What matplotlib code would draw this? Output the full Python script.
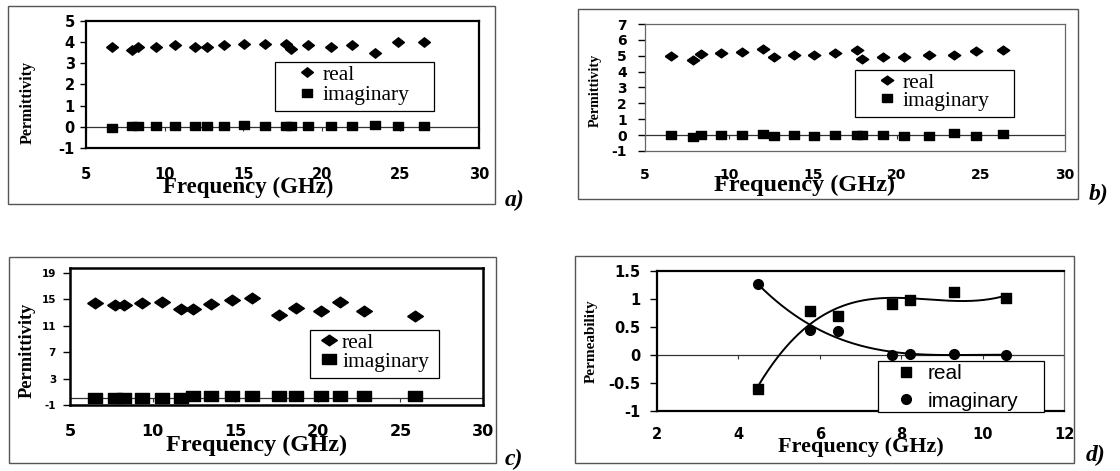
import numpy as np
import matplotlib
matplotlib.use("Agg")
import matplotlib.pyplot as plt
from matplotlib.patches import Rectangle

plt.rcParams["axes.unicode_minus"] = False

W, H = 1120, 471

# ---------------- data ----------------
freq_a = [6.64, 7.91, 8.30, 9.48, 10.68, 11.93, 12.68, 13.75, 15.07, 16.36,
          17.73, 18.07, 19.14, 20.57, 21.93, 23.36, 24.82, 26.48]
real_a = [3.78, 3.62, 3.78, 3.78, 3.86, 3.78, 3.78, 3.86, 3.91, 3.91,
          3.91, 3.69, 3.86, 3.78, 3.86, 3.47, 4.00, 4.00]
imag_a = [-0.05, 0.02, 0.02, 0.02, 0.02, 0.02, 0.02, 0.02, 0.08, 0.02,
          0.02, 0.02, 0.02, 0.02, 0.02, 0.08, 0.02, 0.02]

freq_b = [6.57, 7.85, 8.33, 9.50, 10.78, 12.05, 12.65, 13.86, 15.07, 16.30,
          17.62, 17.89, 19.17, 20.44, 21.93, 23.37, 24.69, 26.28]
real_b = [4.99, 4.76, 5.08, 5.15, 5.22, 5.40, 4.95, 5.05, 5.05, 5.16,
          5.37, 4.78, 4.95, 4.95, 5.05, 5.05, 5.30, 5.37]
imag_b = [0.01, -0.10, 0.01, 0.01, 0.01, 0.07, -0.03, 0.01, -0.03, 0.01,
          0.01, 0.01, 0.01, -0.03, -0.03, 0.11, -0.03, 0.07]

freq_c = [6.51, 7.70, 8.24, 9.36, 10.57, 11.74, 12.45, 13.53, 14.78, 16.02,
          17.64, 18.67, 20.18, 21.35, 22.78, 25.91]
real_c = [14.45, 14.20, 14.20, 14.40, 14.62, 13.51, 13.51, 14.37, 14.87, 15.27,
          12.70, 13.71, 13.21, 14.62, 13.21, 12.50]
imag_c = [0.10, 0.10, 0.10, 0.10, 0.10, 0.10, 0.40, 0.30, 0.30, 0.30,
          0.30, 0.30, 0.30, 0.30, 0.30, 0.30]

freq_d = [4.49, 5.76, 6.45, 7.77, 8.22, 9.30, 10.58]
real_d = [-0.61, 0.79, 0.70, 0.91, 0.98, 1.13, 1.01]
imag_d = [1.27, 0.45, 0.42, 0.00, 0.02, 0.02, 0.00]

xt_abc = [5, 10, 15, 20, 25, 30]
yt_a = [-1, 0, 1, 2, 3, 4, 5]
yt_b = [-1, 0, 1, 2, 3, 4, 5, 6, 7]
yt_c = [-1, 3, 7, 11, 15, 19]
xt_d = [2, 4, 6, 8, 10, 12]
yt_d = [-1, -0.5, 0, 0.5, 1, 1.5]
yl_d = ["-1", "-0.5", "0", "0.5", "1", "1.5"]

series_labels = ["real", "imaginary"]

SERIF = "Liberation Serif"
SANS = "DejaVu Sans"
LSANS = "Liberation Sans"

fig = plt.figure(figsize=(W / 100, H / 100), dpi=100)
fig.patch.set_facecolor("white")


def px_rect(l, t, r, b):
    return [l / W, 1 - b / H, (r - l) / W, (b - t) / H]


def diamond(r):
    return [(-1, 0), (0, r), (1, 0), (0, -r), (-1, 0)]


def box(r):
    return [(-1, -r), (1, -r), (1, r), (-1, r), (-1, -r)]


def outer(l, t, r, b):
    fig.add_artist(Rectangle((l / W, 1 - b / H), (r - l) / W, (b - t) / H,
                             transform=fig.transFigure, fill=False,
                             ec="#555555", lw=1.0))


def style_axis(ax, xpad, ylen, ypad, xsize, ysize):
    ax.tick_params(axis="x", length=0, pad=xpad, labelsize=xsize)
    ax.tick_params(axis="y", length=ylen, width=1.0, pad=ypad,
                   labelsize=ysize, direction="out")
    for lab in ax.get_xticklabels() + ax.get_yticklabels():
        lab.set_fontfamily(SANS)
        lab.set_fontweight("bold")


def zero_axis(ax, ticks):
    # category axis crossing at y = 0, with its own small tick marks
    ax.axhline(0, color="#333333", lw=0.9, zorder=1)
    y0, y1 = ax.get_ylim()
    sec = ax.secondary_xaxis((0 - y0) / (y1 - y0))
    sec.set_xticks(ticks)
    sec.tick_params(axis="x", length=3, width=0.8, color="#333333",
                    direction="out", labelbottom=False, labeltop=False)
    sec.spines["bottom"].set_visible(False)
    sec.spines["top"].set_visible(False)


def spines(ax, thick, lw_thick, lw_thin=0.9):
    for side, sp in ax.spines.items():
        if side in thick:
            sp.set_linewidth(lw_thick)
            sp.set_color("black")
        else:
            sp.set_linewidth(lw_thin)
            sp.set_color("#666666")


def legend_box(ax, x0, y0, x1, y1):
    ax.add_patch(Rectangle((x0, y0), x1 - x0, y1 - y0, transform=ax.transAxes,
                           fc="white", ec="black", lw=0.9, zorder=4,
                           clip_on=False))


# ---------------- panel a ----------------
outer(8, 6, 495, 204)
ax = fig.add_axes(px_rect(86, 21, 479, 148))
ax.set_xlim(5, 30)
ax.set_ylim(-1, 5)
zero_axis(ax, xt_abc)
ax.plot(freq_a, real_a, ls="none", marker=diamond(0.8), ms=8.5, color="k",
        label=series_labels[0], zorder=3)
ax.plot(freq_a, imag_a, ls="none", marker=box(0.8), ms=7.5, color="k",
        label=series_labels[1], zorder=3)
ax.set_xticks(xt_abc)
ax.set_yticks(yt_a)
style_axis(ax, 13.5, 4, 4, 10.5, 10.5)
spines(ax, ["left", "right", "top", "bottom"], 1.6)
legend_box(ax, 0.482, 0.295, 0.886, 0.679)
ax.legend(loc="center left", bbox_to_anchor=(0.535, 0.496), frameon=False,
          borderpad=0, borderaxespad=0, handlelength=1.0, handletextpad=0.24,
          labelspacing=0.0, prop={"family": SERIF, "size": 15.5})
fig.text(27.7 / W, 1 - 102.5 / H, "Permittivity", rotation=90, ha="center",
         va="center", family=SERIF, fontweight="bold", fontsize=11.5)
fig.text(248 / W, 1 - 187.5 / H, "Frequency (GHz)", ha="center", va="center",
         family=SERIF, fontweight="bold", fontsize=16.5)
fig.text(515 / W, 1 - 200 / H, "a)", ha="center", va="center", family=SERIF,
         fontweight="bold", style="italic", fontsize=17)

# ---------------- panel b ----------------
outer(578, 9, 1078, 199)
ax = fig.add_axes(px_rect(645, 24, 1065, 151))
ax.set_xlim(5, 30)
ax.set_ylim(-1, 7)
zero_axis(ax, xt_abc)
ax.plot(freq_b, real_b, ls="none", marker=diamond(0.7), ms=9, color="k",
        label=series_labels[0], zorder=3)
ax.plot(freq_b, imag_b, ls="none", marker=box(0.8), ms=7.5, color="k",
        label=series_labels[1], zorder=3)
ax.set_xticks(xt_abc)
ax.set_yticks(yt_b)
style_axis(ax, 12.5, 5, 8, 10, 10)
spines(ax, [], 1.0)
legend_box(ax, 0.499, 0.270, 0.879, 0.638)
ax.legend(loc="center left", bbox_to_anchor=(0.550, 0.466), frameon=False,
          borderpad=0, borderaxespad=0, handlelength=1.0, handletextpad=0.25,
          labelspacing=-0.1, prop={"family": SERIF, "size": 15.5})
fig.text(595 / W, 1 - 90 / H, "Permittivity", rotation=90, ha="center",
         va="center", family=SERIF, fontweight="bold", fontsize=10.2)
fig.text(805 / W, 1 - 185 / H, "Frequency (GHz)", ha="center", va="center",
         family=SERIF, fontweight="bold", fontsize=17.5)
fig.text(1099 / W, 1 - 194 / H, "b)", ha="center", va="center", family=SERIF,
         fontweight="bold", style="italic", fontsize=17)

# ---------------- panel c ----------------
outer(9, 257, 496, 463)
ax = fig.add_axes(px_rect(70, 268, 483, 405))
ax.set_xlim(5, 30)
ax.set_ylim(-1, 19.75)
zero_axis(ax, xt_abc)
ax.plot(freq_c, real_c, ls="none", marker=diamond(0.68), ms=11.3, color="k",
        label=series_labels[0], zorder=3)
ax.plot(freq_c, imag_c, ls="none", marker=box(0.72), ms=10, color="k",
        label=series_labels[1], zorder=3)
ax.set_xticks(xt_abc)
ax.set_yticks(yt_c)
style_axis(ax, 14, 5, 5, 11.5, 7.5)
spines(ax, ["left", "right", "top", "bottom"], 1.8)
legend_box(ax, 0.581, 0.199, 0.894, 0.547)
ax.legend(loc="center left", bbox_to_anchor=(0.602, 0.385), frameon=False,
          borderpad=0, borderaxespad=0, handlelength=1.0, handletextpad=0.09,
          labelspacing=-0.07, prop={"family": SERIF, "size": 15.5})
fig.text(27 / W, 1 - 350 / H, "Permittivity", rotation=90, ha="center",
         va="center", family=SERIF, fontweight="bold", fontsize=13.2)
fig.text(257 / W, 1 - 445 / H, "Frequency (GHz)", ha="center", va="center",
         family=SERIF, fontweight="bold", fontsize=17.5)
fig.text(514 / W, 1 - 459 / H, "c)", ha="center", va="center", family=SERIF,
         fontweight="bold", style="italic", fontsize=17)

# ---------------- panel d ----------------
outer(575, 256, 1074, 463)
ax = fig.add_axes(px_rect(657, 271, 1064, 411))
ax.set_xlim(2, 12)
ax.set_ylim(-1, 1.5)
zero_axis(ax, xt_d)
ax.plot(freq_d, real_d, ls="none", marker=box(0.9), ms=7.5, color="k",
        label=series_labels[0], zorder=3)
ax.plot(freq_d, imag_d, ls="none", marker="o", ms=7, color="k",
        label=series_labels[1], zorder=3)
xf = np.linspace(min(freq_d), max(freq_d), 300)
ax.plot(xf, np.polyval(np.polyfit(freq_d, real_d, 3), xf), color="k", lw=1.4,
        zorder=2)
ax.plot(xf, np.polyval(np.polyfit(freq_d, imag_d, 3), xf), color="k", lw=1.4,
        zorder=2)
ax.set_xticks(xt_d)
ax.set_yticks(yt_d)
ax.set_yticklabels(yl_d)
style_axis(ax, 11.3, 5, 7, 10.5, 10.5)
spines(ax, ["left", "top", "bottom"], 1.6)
legend_box(ax, 0.543, -0.009, 0.951, 0.357)
ax.legend(loc="center left", bbox_to_anchor=(0.587, 0.168), frameon=False,
          borderpad=0, borderaxespad=0, handlelength=1.0, handletextpad=0.53,
          labelspacing=0.4, prop={"family": LSANS, "size": 15})
fig.text(591.7 / W, 1 - 341 / H, "Permeability", rotation=90, ha="center",
         va="center", family=SERIF, fontweight="bold", fontsize=11)
fig.text(861 / W, 1 - 447 / H, "Frequency (GHz)", ha="center", va="center",
         family=SERIF, fontweight="bold", fontsize=16)
fig.text(1096 / W, 1 - 455 / H, "d)", ha="center", va="center", family=SERIF,
         fontweight="bold", style="italic", fontsize=17)

fig.savefig("out.png", dpi=100, facecolor="white")
